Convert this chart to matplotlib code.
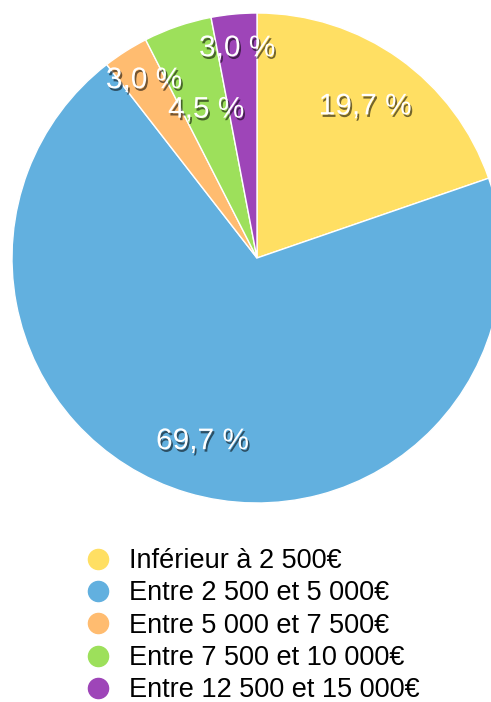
import matplotlib
matplotlib.use("Agg")
import matplotlib.pyplot as plt
import matplotlib.patheffects as pe
from matplotlib.lines import Line2D
import numpy as np

plt.rcParams['font.family'] = ['Liberation Sans', 'DejaVu Sans']

categories = ["Inférieur à 2 500€", "Entre 2 500 et 5 000€", "Entre 5 000 et 7 500€",
              "Entre 7 500 et 10 000€", "Entre 12 500 et 15 000€"]
values = [19.7, 69.7, 3.0, 4.5, 3.0]
labels = ["19,7 %", "69,7 %", "3,0 %", "4,5 %", "3,0 %"]
colors = ["#FFDF63", "#62B0DF", "#FFBC70", "#9DE05B", "#9E45B8"]
label_dist = [0.76, 0.78, 0.86, 0.64, 0.86]

W, H = 491, 702
fig = plt.figure(figsize=(W / 100, H / 100), dpi=100)
cx, cy, r = 257, 258, 245
ax = fig.add_axes([(cx - r) / W, (H - cy - r) / H, 2 * r / W, 2 * r / H])

wedges, _ = ax.pie(values, colors=colors, startangle=90, counterclock=False, radius=1,
                   wedgeprops=dict(edgecolor='white', linewidth=1.0))
ax.set_xlim(-1, 1)
ax.set_ylim(-1, 1)
ax.set_aspect('equal')
ax.axis('off')
for w in wedges:
    w.set_clip_on(False)

shadow = [pe.SimplePatchShadow(offset=(1.2, -1.8), shadow_rgbFace='black', alpha=0.55), pe.Normal()]
for w, lab, d in zip(wedges, labels, label_dist):
    ang = np.deg2rad((w.theta1 + w.theta2) / 2)
    ax.text(d * np.cos(ang), d * np.sin(ang), lab, ha='center', va='center',
            color='white', fontsize=21.5, path_effects=shadow)

handles = [Line2D([0], [0], marker='o', linestyle='none', markersize=14.5,
                  markerfacecolor=c, markeredgecolor=c) for c in colors]
leg = fig.legend(handles, categories, loc='upper left', bbox_to_anchor=(84 / W, 1 - 548 / H),
                 frameon=False, fontsize=19.5, handlelength=1.0, handletextpad=0.65,
                 labelspacing=0.235, borderpad=0, borderaxespad=0)

fig.savefig("out.png", dpi=100)
